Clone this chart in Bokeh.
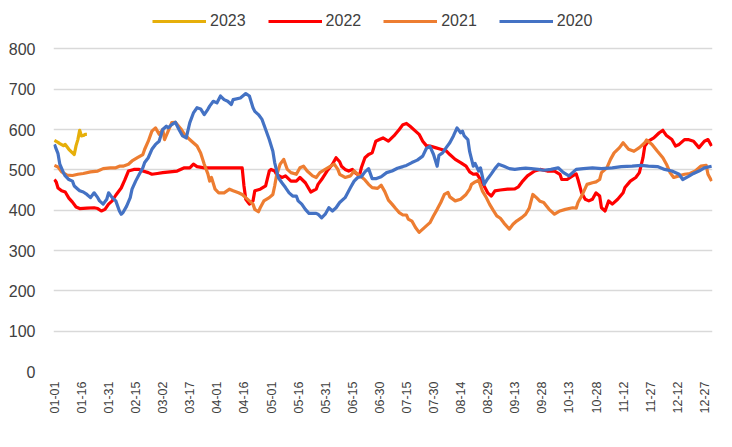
from math import pi
from bokeh.plotting import figure
from bokeh.models import Legend, LegendItem, FixedTicker, Range1d
from bokeh.embed import file_html
from bokeh.resources import INLINE

tick_labels = ["01-01", "01-16", "01-31", "02-15", "03-02", "03-17", "04-01", "04-16",
               "05-01", "05-16", "05-31", "06-15", "06-30", "07-15", "07-30", "08-14",
               "08-29", "09-13", "09-28", "10-13", "10-28", "11-12", "11-27", "12-12", "12-27"]
tick_days = list(range(0, 361, 15))
y_ticks = list(range(0, 801, 100))

days_2023 = [0, 2, 3, 5, 6, 8, 10, 11, 12, 13, 14, 15, 16, 17, 18]
vals_2023 = [573, 568, 565, 560, 563, 551, 542, 538, 560, 575, 598, 584, 585, 588, 588]

days_2022 = [0, 1, 2, 4, 6, 8, 10, 12, 14, 18, 22, 24, 26, 28, 30, 32, 34, 37, 39, 41, 44, 47, 49,
             52, 54, 57, 60, 64, 68, 72, 75, 77, 79, 83, 88, 94, 99, 104, 105, 106, 108, 110, 111,
             114, 117, 119, 120, 122, 123, 126, 128, 131, 134, 136, 139, 142, 145, 146, 148, 151,
             154, 156, 158, 159, 161, 163, 165, 167, 169, 170, 172, 174, 176, 178, 180, 182, 185,
             188, 191, 193, 195, 197, 200, 202, 204, 206, 208, 211, 214, 217, 219, 222, 225, 228,
             230, 232, 234, 236, 238, 240, 242, 244, 247, 251, 255, 257, 259, 262, 266, 269, 273,
             277, 280, 281, 284, 287, 289, 290, 292, 294, 296, 298, 300, 302, 303, 305, 307, 309,
             312, 315, 316, 319, 322, 324, 326, 327, 329, 332, 335, 337, 339, 342, 344, 346, 349,
             351, 354, 357, 360, 362, 364]
vals_2022 = [476, 470, 455, 448, 445, 430, 420, 408, 404, 405, 406, 404, 398, 402, 415, 423, 437,
             455, 475, 497, 501, 501, 497, 493, 489, 491, 493, 495, 497, 505, 505, 514, 508, 505,
             505, 505, 505, 505, 460, 427, 415, 423, 448, 452, 460, 497, 501, 497, 489, 481, 485,
             472, 472, 481, 468, 445, 452, 464, 476, 497, 514, 530, 520, 509, 501, 497, 501, 491,
             486, 505, 530, 538, 542, 571, 575, 579, 571, 584, 600, 612, 615, 608, 596, 588, 571,
             560, 559, 555, 551, 547, 538, 526, 518, 509, 495, 489, 490, 476, 460, 443, 435, 448,
             450, 452, 453, 458, 470, 485, 497, 501, 497, 497, 489, 476, 476, 485, 490, 476, 443,
             427, 423, 427, 443, 435, 406, 398, 423, 415, 427, 443, 456, 472, 481, 493, 530, 559,
             571, 579, 592, 598, 585, 575, 559, 563, 575, 575, 571, 555, 571, 575, 559]

days_2021 = [0, 2, 4, 7, 10, 13, 16, 20, 24, 27, 31, 34, 36, 38, 41, 43, 46, 49, 50, 52, 54, 56,
             58, 60, 61, 63, 65, 67, 70, 72, 74, 76, 79, 81, 83, 85, 86, 87, 89, 91, 94, 97, 99,
             102, 104, 106, 108, 110, 111, 113, 114, 116, 119, 121, 122, 123, 125, 127, 129, 131,
             134, 136, 138, 140, 143, 145, 147, 150, 153, 155, 157, 158, 161, 164, 166, 168, 170,
             172, 174, 176, 179, 181, 183, 185, 187, 189, 191, 193, 195, 196, 198, 200, 202, 204,
             206, 208, 210, 212, 214, 216, 218, 219, 222, 225, 228, 230, 231, 233, 235, 237, 239,
             241, 243, 245, 247, 249, 252, 254, 256, 259, 261, 263, 265, 267, 269, 271, 274, 277,
             280, 283, 287, 289, 290, 292, 295, 298, 300, 302, 303, 306, 308, 310, 313, 315, 318,
             321, 324, 327, 328, 331, 334, 337, 339, 341, 343, 346, 349, 352, 355, 358, 361, 362,
             364]
vals_2021 = [511, 507, 495, 487, 486, 489, 491, 495, 497, 503, 505, 505, 509, 509, 514, 522, 530,
             538, 551, 571, 596, 604, 588, 600, 575, 596, 617, 618, 602, 588, 579, 571, 559, 542,
             514, 490, 472, 481, 452, 443, 443, 452, 448, 443, 439, 431, 423, 415, 402, 396, 406,
             423, 431, 439, 460, 485, 514, 526, 501, 493, 489, 505, 509, 497, 485, 481, 493, 501,
             509, 514, 501, 489, 481, 485, 497, 489, 483, 475, 464, 456, 454, 462, 446, 425, 415,
             404, 394, 388, 388, 378, 373, 357, 345, 353, 361, 369, 386, 402, 419, 439, 444, 433,
             423, 427, 439, 452, 464, 470, 474, 448, 433, 415, 400, 386, 380, 368, 353, 365, 373,
             382, 390, 405, 439, 431, 422, 419, 402, 390, 398, 402, 406, 405, 419, 435, 464, 468,
             470, 476, 493, 505, 526, 542, 555, 567, 551, 546, 555, 567, 574, 563, 546, 530, 514,
             493, 481, 485, 489, 491, 497, 509, 511, 489, 472]

days_2020 = [0, 2, 3, 5, 6, 8, 10, 11, 13, 14, 16, 18, 20, 22, 24, 25, 27, 29, 30, 32, 34, 36, 37,
             38, 40, 42, 43, 45, 47, 49, 50, 52, 54, 56, 58, 60, 62, 63, 65, 67, 69, 71, 73, 75,
             77, 79, 81, 83, 85, 86, 88, 90, 92, 94, 96, 98, 99, 103, 106, 108, 110, 111, 113, 115,
             117, 119, 121, 122, 124, 126, 128, 130, 132, 134, 135, 137, 139, 141, 143, 145, 146,
             148, 150, 152, 154, 156, 158, 161, 164, 166, 168, 170, 172, 174, 176, 178, 181, 184,
             187, 190, 193, 195, 198, 201, 204, 206, 208, 210, 212, 213, 215, 217, 219, 221, 223,
             225, 226, 227, 229, 230, 232, 233, 235, 236, 238, 240, 242, 244, 246, 249, 252, 255,
             258, 261, 264, 268, 271, 275, 279, 282, 285, 287, 289, 293, 298, 303, 309, 314, 320,
             325, 329, 334, 338, 342, 346, 348, 351, 354, 357, 360, 364]
vals_2020 = [563, 540, 514, 493, 485, 476, 472, 460, 452, 448, 445, 439, 431, 443, 431, 423, 415,
             427, 443, 431, 423, 398, 390, 394, 410, 431, 452, 472, 489, 505, 518, 530, 551, 563,
             571, 600, 608, 604, 612, 618, 600, 584, 579, 617, 641, 654, 651, 637, 650, 658, 670,
             666, 683, 674, 670, 662, 674, 678, 689, 683, 654, 645, 637, 625, 600, 575, 546, 518,
             481, 468, 456, 443, 435, 435, 423, 415, 402, 392, 392, 392, 390, 381, 390, 406, 398,
             406, 419, 431, 456, 472, 481, 483, 495, 503, 478, 478, 483, 493, 497, 504, 508, 511,
             518, 524, 534, 553, 558, 538, 509, 536, 542, 555, 567, 584, 604, 592, 596, 584, 575,
             545, 509, 516, 497, 505, 464, 478, 490, 503, 514, 509, 503, 501, 503, 504, 503, 501,
             499, 501, 505, 493, 485, 493, 501, 503, 505, 503, 505, 508, 509, 511, 509, 508, 501,
             497, 489, 476, 483, 491, 497, 505, 509]

series = [
    ("2023", days_2023, vals_2023, "#E6AF0A"),
    ("2022", days_2022, vals_2022, "#FF0000"),
    ("2021", days_2021, vals_2021, "#ED7D31"),
    ("2020", days_2020, vals_2020, "#4472C4"),
]

FONT = "Liberation Sans"

# y range extends above 800 so the legend can sit inside the frame (no gridline there)
p = figure(width=716, height=431, output_backend="svg", toolbar_location=None,
           x_range=Range1d(-0.5, 364.5), y_range=Range1d(0, 900),
           min_border_left=53, min_border_right=4, min_border_top=8, min_border_bottom=60)
p.outline_line_color = None
p.background_fill_color = "white"
p.border_fill_color = "white"
p.xgrid.grid_line_color = None
p.ygrid.grid_line_color = "#D9D9D9"
p.ygrid.grid_line_width = 1.5

p.yaxis.ticker = FixedTicker(ticks=y_ticks)
p.xaxis.ticker = FixedTicker(ticks=tick_days)
p.xaxis.major_label_overrides = {d: lab for d, lab in zip(tick_days, tick_labels)}
p.xaxis.major_label_orientation = pi / 2

for ax in (p.xaxis[0], p.yaxis[0]):
    ax.axis_line_color = None
    ax.major_tick_line_color = None
    ax.minor_tick_line_color = None
    ax.major_tick_in = 0
    ax.major_tick_out = 0
    ax.major_label_text_font = FONT
    ax.major_label_text_color = "#404040"

p.yaxis.major_label_text_font_size = "16px"
p.yaxis.major_label_standoff = 18
p.xaxis.major_label_text_font_size = "12.5px"
p.xaxis.major_label_standoff = 10

items = []
for name, d, v, c in series:
    r = p.line(d, v, line_color=c, line_width=3.2, line_join="round")
    items.append(LegendItem(label=name, renderers=[r]))

legend = Legend(items=items, orientation="horizontal", location=(99, 340),
                glyph_width=54, glyph_height=20, label_standoff=4, spacing=22,
                padding=0, margin=0, border_line_color=None, background_fill_alpha=0,
                label_text_font=FONT, label_text_font_size="16px", label_text_color="#404040")
p.add_layout(legend, "center")

open("out.html", "w").write(file_html(p, INLINE))
